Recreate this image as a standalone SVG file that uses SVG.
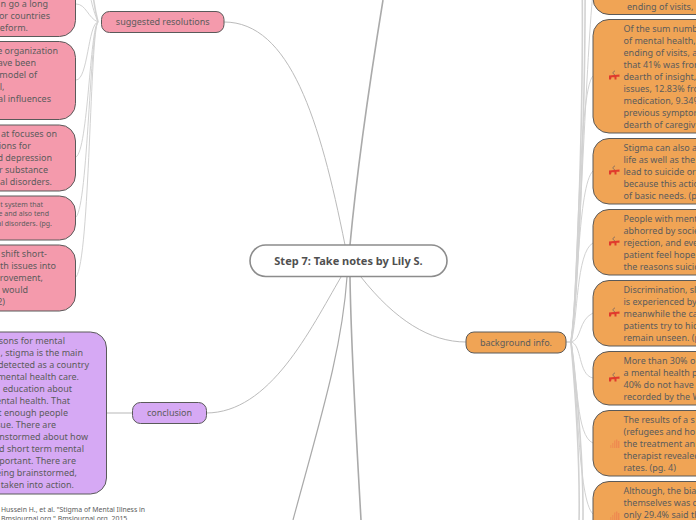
<svg xmlns="http://www.w3.org/2000/svg" width="696" height="520" viewBox="0 0 696 520">
<style>
text{font-family:"Noto Sans","Open Sans","DejaVu Sans",sans-serif;font-size:9px;fill:#5c5c5c}
.e{text-anchor:end}
.m{text-anchor:middle}
.s{font-size:7px}
.c{font-size:6.9px}
.root{fill:#fff;stroke:#8c8c8c;stroke-width:1.6}
.rt{font-weight:700;font-size:11px;fill:#505050}
.p{fill:#F49AAC;stroke:#5a5a5a;stroke-width:1}
.v{fill:#D6A9F4;stroke:#5a5a5a;stroke-width:1}
.o{fill:#F0A455;stroke:#5a5a5a;stroke-width:1}
.l1{fill:none;stroke:#aaa;stroke-width:1.6}
.l2{fill:none;stroke:#bbb;stroke-width:1}
.l3{fill:none;stroke:#d2d2d2;stroke-width:1}
.l4{fill:none;stroke:#d2d2d2;stroke-width:1.6}
.ir{fill:#E03A2C}
.ig{fill:none;stroke:#8a7060;stroke-width:1}
.b{fill:#EE8A50}
</style>
<defs>
<g id="sick"><path class="ig" d="M1 -5 C-1.500 -4.500 -1.500 -2 .5 -1.500 L.5 0"/><path class="ir" d="M-5 -.5 L5.500 -1.500 L5.500 .8 L2.500 .8 L2.500 3.500 L.5 3.500 L.5 1.200 L-2.500 1.200 L-3 3.500 L-5 3.500 Z"/></g>
<g id="bars"><rect class="b" x="-5" y="1" width="1.400" height="3" opacity=".6"/><rect class="b" x="-3" y="-1" width="1.400" height="5" opacity=".7"/><rect class="b" x="-1" y="-3.500" width="1.400" height="7.500" opacity=".85"/><rect class="b" x="1" y="-4.500" width="1.400" height="8.500"/><rect class="b" x="3" y="-3" width="1.400" height="7"/></g>
</defs>
<g id="connectors">
<path class="l1" d="M350 245 C356 180 370 80 383 0"/>
<path class="l1" d="M347 277 C342 350 320 420 293 520" style="stroke-width:1.2"/>
<path class="l1" d="M350 277 C351 350 356 430 361 520"/>
<path class="l2" d="M345 245 C320 120 290 22 224 22"/>
<path class="l2" d="M341 277 C310 330 270 413 206 413"/>
<path class="l2" d="M361 277 C395 320 430 342 466 342"/>
<path class="l4" d="M107 413 H132"/>
<path class="l4" d="M98 22 C90 -10 92 -30 90 -60"/>
<path class="l3" d="M98 22 C92 8 88 -10 86 -40"/>
<path class="l3" d="M98 22 C88 18 86 4 76 4"/>
<path class="l3" d="M98 22 C88 24 88 80 76 80"/>
<path class="l3" d="M98 22 C90 28 88 150 76 157"/>
<path class="l3" d="M98 22 C90 30 88 205 76 217"/>
<path class="l3" d="M98 22 C90 30 90 260 76 277"/>
<path class="l4" d="M566 342 H572"/>
<path class="l4" d="M571 342 C578 300 586 100 585 -30"/>
<path class="l4" d="M571 342 C577 300 584 100 582 -30"/>
<path class="l3" d="M571 342 C578 300 586 60 593 -8"/>
<path class="l3" d="M571 342 C578 300 578 90 593 76"/>
<path class="l3" d="M571 342 C578 300 578 185 593 171"/>
<path class="l3" d="M571 342 C578 320 576 252 593 243"/>
<path class="l3" d="M571 342 C582 340 578 320 593 313"/>
<path class="l3" d="M571 342 C582 344 578 375 593 378"/>
<path class="l3" d="M571 342 C578 380 576 436 593 443"/>
<path class="l3" d="M571 342 C578 390 578 500 593 514"/>
<path class="l4" d="M571 342 C578 400 586 480 582 550"/>
<path class="l4" d="M571 342 C576 400 582 480 578 550"/>
</g>
<g id="root"><rect class="root" x="250" y="245" width="197" height="31.500" rx="15.700"/><text class="rt m" x="348.500" y="265">Step 7: Take notes by Lily S.</text></g>
<g id="suggested"><rect class="p" x="101.500" y="11.500" width="122.500" height="21" rx="8"/><text class="m" x="162.700" y="25">suggested resolutions</text></g>
<g id="conclusion"><rect class="v" x="132.500" y="402.500" width="74" height="21" rx="8"/><text class="m" x="169.500" y="416">conclusion</text></g>
<g id="background"><rect class="o" x="466" y="332" width="100" height="21" rx="8"/><text class="m" x="516" y="346">background info.</text></g>
<g id="p1"><rect class="p" x="-60" y="-30" width="135.500" height="66.500" rx="16"/><text class="e" x="48" y="7">n go a long</text><text class="e" x="50" y="19">or countries</text><text class="e" x="28" y="31">reform.</text></g>
<g id="p2"><rect class="p" x="-60" y="41.500" width="135.500" height="78" rx="16"/><text class="e" x="58" y="54">e organization</text><text class="e" x="36" y="66">ave been</text><text class="e" x="37" y="78">model of</text><text class="e" x="4.500" y="90">l,</text><text class="e" x="51" y="102">al influences</text></g>
<g id="p3"><rect class="p" x="-60" y="125" width="135.500" height="66" rx="16"/><text class="e" x="57" y="137">at focuses on</text><text class="e" x="31" y="149">ions for</text><text class="e" x="52" y="161">d depression</text><text class="e" x="48" y="173">r substance</text><text class="e" x="52" y="185">al disorders.</text></g>
<g id="p4"><rect class="p" x="-60" y="196" width="135.500" height="44" rx="16"/><text class="e s" x="43" y="206.500">t system that</text><text class="e s" x="49" y="216">e and also tend</text><text class="e s" x="52" y="225.500">al disorders. (pg.</text></g>
<g id="p5"><rect class="p" x="-60" y="245" width="135.500" height="66" rx="16"/><text class="e" x="47" y="257">shift short-</text><text class="e" x="56" y="269">th issues into</text><text class="e" x="43" y="281">rovement,</text><text class="e" x="28" y="293">would</text><text class="e" x="5" y="305">2)</text></g>
<g id="v1"><rect class="v" x="-60" y="332" width="166.500" height="162" rx="16"/>
<text class="e" x="65" y="344">sons for mental</text><text class="e" x="83" y="356">, stigma is the main</text><text class="e" x="89" y="368">detected as a country</text><text class="e" x="79" y="380">mental health care.</text><text class="e" x="72" y="392">education about</text><text class="e" x="70" y="404">ental health. That</text><text class="e" x="68" y="416">t enough people</text><text class="e" x="56" y="428">sue. There are</text><text class="e" x="88" y="440">nstormed about how</text><text class="e" x="84" y="452">d short term mental</text><text class="e" x="76" y="464">portant. There are</text><text class="e" x="77" y="476">eing brainstormed,</text><text class="e" x="74" y="488">taken into action.</text></g>
<g id="citation"><text class="c" x="1" y="511.500">Hussein H., et al. "Stigma of Mental Illness in</text><text class="c" x="1" y="521">Bmsjournal.org." Bmsjournal.org, 2015.</text></g>
<g id="o1"><rect class="o" x="593" y="-40" width="140" height="54.500" rx="16"/><text x="627" y="10">ending of visits,</text></g>
<g id="o2"><rect class="o" x="593" y="19.500" width="140" height="113.500" rx="16"/><use href="#sick" x="614" y="76"/><text x="623.500" y="31.500">Of the sum numb</text><text x="623.500" y="43.500">of mental health,</text><text x="623.500" y="55.500">ending of visits, a</text><text x="623.500" y="67.500">that 41% was fror</text><text x="623.500" y="79.500">dearth of insight,</text><text x="623.500" y="91.500">issues, 12.83% fro</text><text x="623.500" y="103.500">medication, 9.34%</text><text x="623.500" y="115.500">previous symptor</text><text x="623.500" y="127.500">dearth of caregiv</text></g>
<g id="o3"><rect class="o" x="593" y="138.500" width="140" height="65.500" rx="16"/><use href="#sick" x="614" y="171"/><text x="623.500" y="151">Stigma can also a</text><text x="623.500" y="163">life as well as the</text><text x="623.500" y="175">lead to suicide or</text><text x="623.500" y="187">because this actio</text><text x="623.500" y="199">of basic needs. (p</text></g>
<g id="o4"><rect class="o" x="593" y="209.500" width="140" height="65.500" rx="16"/><use href="#sick" x="614" y="242"/><text x="623.500" y="222">People with ment</text><text x="623.500" y="234">abhorred by socie</text><text x="623.500" y="246">rejection, and eve</text><text x="623.500" y="258">patient feel hope</text><text x="623.500" y="270">the reasons suicic</text></g>
<g id="o5"><rect class="o" x="593" y="280.500" width="140" height="65.500" rx="16"/><use href="#sick" x="614" y="313"/><text x="623.500" y="293">Discrimination, sl</text><text x="623.500" y="305">is experienced by</text><text x="623.500" y="317">meanwhile the ca</text><text x="623.500" y="329">patients try to hic</text><text x="623.500" y="341">remain unseen. (p</text></g>
<g id="o6"><rect class="o" x="593" y="351.500" width="140" height="53.500" rx="16"/><use href="#sick" x="614" y="378"/><text x="623.500" y="364">More than 30% o</text><text x="623.500" y="376">a mental health p</text><text x="623.500" y="388">40% do not have</text><text x="623.500" y="400">recorded by the W</text></g>
<g id="o7"><rect class="o" x="593" y="410.500" width="140" height="65.500" rx="16"/><use href="#bars" x="615" y="444"/><text x="623.500" y="423">The results of a s</text><text x="623.500" y="435">(refugees and ho</text><text x="623.500" y="447">the treatment an</text><text x="623.500" y="459">therapist revealed</text><text x="623.500" y="471">rates. (pg. 4)</text></g>
<g id="o8"><rect class="o" x="593" y="481.500" width="140" height="80" rx="16"/><use href="#bars" x="615" y="516"/><text x="623.500" y="494">Although, the bia</text><text x="623.500" y="506">themselves was c</text><text x="623.500" y="518">only 29.4% said th</text></g>
</svg>
